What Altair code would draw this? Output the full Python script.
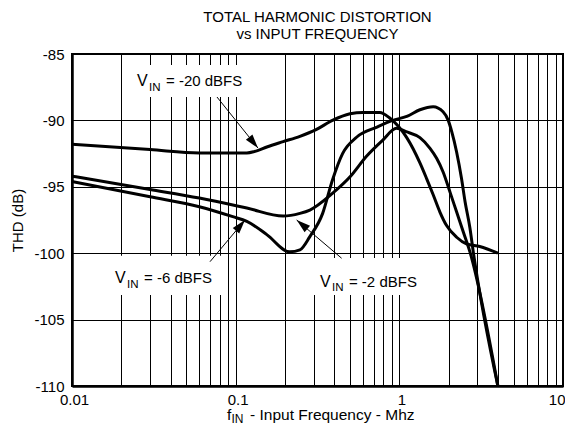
import math
import json
import altair as alt
import pandas as pd

# ---------------- data ----------------
# V_IN = -20 dBFS
freq_m20 = [0.01, 0.03, 0.06, 0.117, 0.13, 0.155, 0.195, 0.247, 0.31, 0.39, 0.5, 0.6,
            0.76, 0.87, 1.11, 1.336, 1.47, 1.61, 1.77, 1.94, 2.24, 2.57, 3.1, 4.0]
thd_m20 = [-91.8, -92.2, -92.45, -92.45, -92.35, -92.0, -91.6, -91.2, -90.7, -90.0, -89.5, -89.4,
           -89.4, -89.8, -91.3, -93.2, -94.4, -95.6, -96.9, -97.9, -98.8, -99.3, -99.5, -100.0]

# V_IN = -2 dBFS
freq_m2 = [0.01, 0.03, 0.06, 0.117, 0.195, 0.247, 0.284, 0.39, 0.5, 0.63, 0.79, 0.96,
           1.1, 1.336, 1.54, 1.69, 1.854, 2.04, 2.24, 2.46, 2.7, 4.0]
thd_m2 = [-94.2, -95.2, -95.85, -96.6, -97.2, -97.0, -96.75, -95.5, -94.25, -92.7, -91.5, -90.6,
          -90.85, -91.3, -92.1, -92.85, -93.9, -95.4, -96.9, -98.4, -99.9, -110.0]

# V_IN = -6 dBFS
freq_m6 = [0.01, 0.03, 0.06, 0.096, 0.117, 0.155, 0.214, 0.247, 0.284, 0.34, 0.39, 0.45,
           0.55, 0.73, 0.91, 1.11, 1.336, 1.61, 1.85, 1.99, 2.09, 2.24, 2.4, 2.52, 2.7, 2.83, 4.0]
thd_m6 = [-94.6, -95.75, -96.5, -97.25, -97.6, -98.6, -99.9, -99.75, -98.75, -97.0, -94.5, -92.5,
          -91.25, -90.5, -90.0, -89.7, -89.2, -88.97, -89.35, -90.0, -90.85, -92.4, -94.4, -96.1,
          -98.1, -99.9, -110.0]

series_names = ["-20 dBFS", "-2 dBFS", "-6 dBFS"]

# axes
x_grid = [0.01, 0.02, 0.03, 0.04, 0.05, 0.06, 0.07, 0.08, 0.09,
          0.1, 0.2, 0.3, 0.4, 0.5, 0.6, 0.7, 0.8, 0.9,
          1, 2, 3, 4, 5, 6, 7, 8, 9, 10]
x_tick_labels = ["0.01", "0.1", "1", "10"]
y_ticks = [-110, -105, -100, -95, -90, -85]

title_lines = ["TOTAL HARMONIC DISTORTION", "vs INPUT FREQUENCY"]
y_title = "THD (dB)"
x_title_parts = ["f", "IN", "- Input Frequency - Mhz"]

# annotations (anchor of label, in data units)
ann_main = ["V", "V", "V"]
ann_sub = ["IN", "IN", "IN"]
ann_rest = ["= -20 dBFS", "= -6 dBFS", "= -2 dBFS"]
ann_f = [0.02495, 0.01831, 0.3273]
ann_v = [-87.41, -102.27, -102.52]

# white label boxes (data units)
box_f1 = [0.0243, 0.0166, 0.265]
box_f2 = [0.122, 0.086, 1.54]
box_v1 = [-85.83, -100.2, -100.36]
box_v2 = [-88.24, -103.15, -103.15]

# arrows: tail -> tip (data units)
arr_tail_f = [0.0769, 0.0697, 0.444]
arr_tail_v = [-88.24, -100.64, -100.38]
arr_tip_f = [0.1368, 0.114, 0.2359]
arr_tip_v = [-92.08, -97.5, -97.5]

# ---------------- chart ----------------
W, H = 491, 332
FONT = "Liberation Sans"

rows = []
for name, fs, vs in [(series_names[0], freq_m20, thd_m20),
                     (series_names[1], freq_m2, thd_m2),
                     (series_names[2], freq_m6, thd_m6)]:
    for i, (f, v) in enumerate(zip(fs, vs)):
        rows.append({"series": name, "f": f, "thd": v, "order": i})
curves = pd.DataFrame(rows)

x_scale = alt.Scale(type="log", domain=[0.01, 10], nice=False)
y_scale = alt.Scale(domain=[-110, -85], nice=False, zero=False)

label_expr = "indexof(" + json.dumps(x_tick_labels).replace('"', "'") + ", datum.label) >= 0 ? datum.label : ''"
x_axis = alt.Axis(values=x_grid, format="~g", labelExpr=label_expr, grid=True,
                  gridColor="black", gridWidth=1, gridOpacity=1, ticks=False,
                  domain=True, domainColor="black", domainWidth=2.5,
                  labelFont=FONT, labelFontSize=15, labelColor="black",
                  labelPadding=6, labelFlush=False, labelOverlap=False, labelOffset=2,
                  labelAlign=alt.expr("datum.value >= 10 ? 'right' : 'center'"),
                  title=None)
y_axis = alt.Axis(values=y_ticks, labelExpr="'' + datum.value", grid=True, gridColor="black",
                  gridWidth=1, gridOpacity=1, ticks=False, domain=True, domainColor="black",
                  domainWidth=2.5, labelFont=FONT, labelFontSize=15, labelColor="black",
                  labelPadding=8, labelOverlap=False, labelFlush=False,
                  title=y_title, titleFont=FONT, titleFontSize=15, titleFontWeight="normal",
                  titleColor="black", titleX=-55, titleY=H / 2, titleAngle=270,
                  titleAlign="center", titleBaseline="middle")


def X(field):
    return alt.X(field, type="quantitative", scale=x_scale, axis=x_axis)


def Y(field):
    return alt.Y(field, type="quantitative", scale=y_scale, axis=y_axis)


boxes = pd.DataFrame({"f1": box_f1, "f2": box_f2, "v1": box_v1, "v2": box_v2})
box_layer = alt.Chart(boxes).mark_rect(fill="white", stroke=None).encode(
    x=X("f1"), x2="f2", y=Y("v1"), y2="v2")

line_layer = alt.Chart(curves).mark_line(color="black", strokeWidth=3, interpolate="monotone",
                                         clip=True).encode(
    x=X("f"), y=Y("thd"), detail="series:N", order="order:Q")


def px(f):
    return W * (math.log10(f) + 2) / 3


def py(v):
    return H * (-85 - v) / 25


angles = []
for tf, tv, hf, hv in zip(arr_tail_f, arr_tail_v, arr_tip_f, arr_tip_v):
    dx = px(hf) - px(tf)
    dy = py(hv) - py(tv)
    angles.append(math.degrees(math.atan2(dx, -dy)) % 360)

arrows = pd.DataFrame({"tf": arr_tail_f, "tv": arr_tail_v, "hf": arr_tip_f, "hv": arr_tip_v,
                       "ang": angles})
rule_layer = alt.Chart(arrows).mark_rule(color="black", strokeWidth=1).encode(
    x=X("tf"), x2="hf", y=Y("tv"), y2="hv")
head_layer = alt.Chart(arrows).mark_point(shape="M0,0L0.6,2L-0.6,2Z", filled=True, size=196,
                                          color="black", opacity=1, strokeWidth=0).encode(
    x=X("hf"), y=Y("hv"), angle=alt.Angle("ang:Q", scale=None))

ann = pd.DataFrame({"f": ann_f, "v": ann_v, "main": ann_main, "sub": ann_sub, "rest": ann_rest})
txt_main = alt.Chart(ann).mark_text(align="left", baseline="alphabetic", font=FONT, fontSize=16,
                                    color="black").encode(x=X("f"), y=Y("v"), text="main:N")
txt_sub = alt.Chart(ann).mark_text(align="left", baseline="alphabetic", font=FONT, fontSize=11.5,
                                   color="black", dx=12, dy=4.5).encode(x=X("f"), y=Y("v"), text="sub:N")
txt_rest = alt.Chart(ann).mark_text(align="left", baseline="alphabetic", font=FONT, fontSize=15,
                                    color="black", dx=29).encode(x=X("f"), y=Y("v"), text="rest:N")

# chart title (two centred lines) and x-axis title with subscript, as text
one = pd.DataFrame({"a": [0]})
title1 = alt.Chart(one).mark_text(align="center", baseline="alphabetic", font=FONT, fontSize=15,
                                  color="black").encode(
    x=alt.value(W / 2), y=alt.value(-32), text=alt.value(title_lines[0]))
title2 = alt.Chart(one).mark_text(align="center", baseline="alphabetic", font=FONT, fontSize=15,
                                  color="black").encode(
    x=alt.value(W / 2), y=alt.value(-15), text=alt.value(title_lines[1]))
xt1 = alt.Chart(one).mark_text(align="left", baseline="alphabetic", font=FONT, fontSize=15.5,
                               color="black").encode(
    x=alt.value(155), y=alt.value(366), text=alt.value(x_title_parts[0]))
xt2 = alt.Chart(one).mark_text(align="left", baseline="alphabetic", font=FONT, fontSize=12,
                               color="black").encode(
    x=alt.value(159.5), y=alt.value(369), text=alt.value(x_title_parts[1]))
xt3 = alt.Chart(one).mark_text(align="left", baseline="alphabetic", font=FONT, fontSize=15.5,
                               color="black").encode(
    x=alt.value(178), y=alt.value(366), text=alt.value(x_title_parts[2]))

chart = alt.layer(
    box_layer, line_layer, rule_layer, head_layer, txt_main, txt_sub, txt_rest,
    title1, title2, xt1, xt2, xt3
).properties(
    width=W, height=H,
    padding={"left": 64, "top": 46, "right": 2, "bottom": 40},
    autosize=alt.AutoSizeParams(type="none"),
    background="white",
).configure_view(stroke="black", strokeWidth=2)

chart.save("out.html", embed_options={"renderer": "svg", "actions": False})
